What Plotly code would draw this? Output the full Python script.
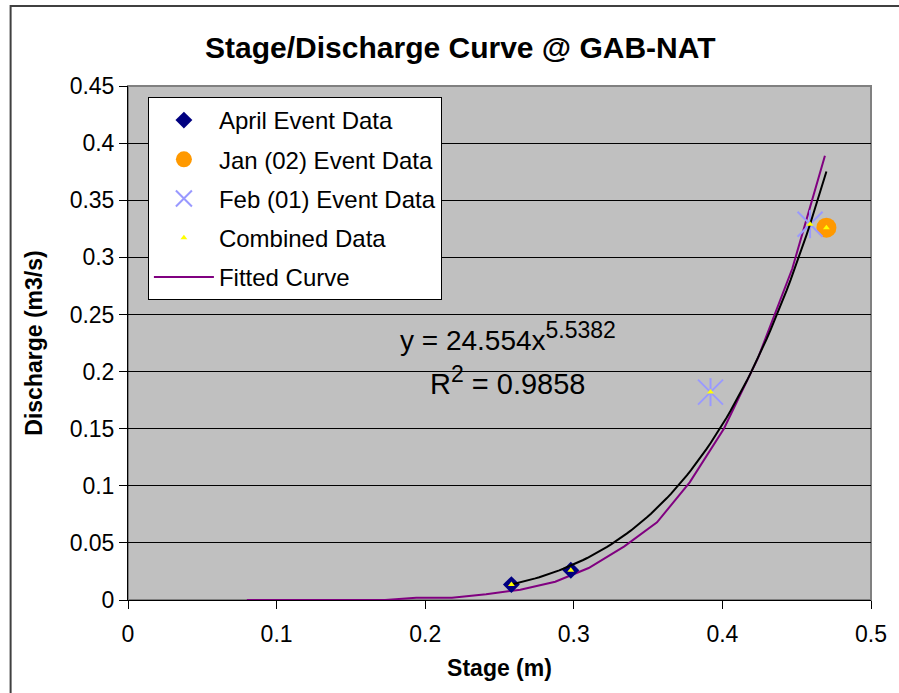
import numpy as np
import plotly.graph_objects as go

# Observed events (stage in m, discharge in m3/s)
april_stage = [0.258, 0.298]
april_q = [0.0135, 0.026]

jan_stage = [0.470]
jan_q = [0.326]

feb_stage = [0.392, 0.459]
feb_q = [0.182, 0.329]

combined_stage = [0.258, 0.298, 0.392, 0.459, 0.470]
combined_q = [0.0135, 0.026, 0.182, 0.329, 0.326]

# Rating curve tabulated by stage
fit_stage = [0.080, 0.104, 0.127, 0.150, 0.173, 0.194, 0.218, 0.241, 0.264,
             0.2875, 0.310, 0.334, 0.356, 0.378, 0.401, 0.424, 0.447, 0.469]
fit_q = [0.0, 0.0, 0.0, 0.0, 0.0, 0.002, 0.002, 0.005, 0.009,
         0.016, 0.028, 0.047, 0.068, 0.103, 0.150, 0.212, 0.290, 0.389]

# Power trendline through the combined data: y = a * x^b
trend_a = 24.554
trend_b = 5.5382
trend_r2 = 0.9858
trend_range = [0.258, 0.470]

x_ticks = [0, 0.1, 0.2, 0.3, 0.4, 0.5]
y_ticks = [0, 0.05, 0.1, 0.15, 0.2, 0.25, 0.3, 0.35, 0.4, 0.45]

FONT = "Liberation Sans, Arial, sans-serif"
FEB_COLOR = "#9999FF"

trend_x = np.linspace(trend_range[0], trend_range[1], 80)
trend_y = trend_a * trend_x ** trend_b

fig = go.Figure()

fig.add_trace(go.Scatter(
    x=fit_stage, y=fit_q, mode="lines", name="Fitted Curve",
    line=dict(color="#800080", width=2), legendrank=5, legendgroup="g5"))

fig.add_trace(go.Scatter(
    x=april_stage, y=april_q, mode="markers", name="April Event Data",
    marker=dict(symbol="diamond", size=13, color="#000080"),
    legendrank=1, legendgroup="g1"))

fig.add_trace(go.Scatter(
    x=jan_stage, y=jan_q, mode="markers", name="Jan (02) Event Data",
    marker=dict(symbol="circle", size=20, color="#FF9900"),
    legendrank=2, legendgroup="g2"))

# Feb marker: an X with a vertical stroke through it
fig.add_trace(go.Scatter(
    x=feb_stage, y=feb_q, mode="markers", name="Feb (01) Event Data",
    marker=dict(symbol="x-thin-open", size=25, color=FEB_COLOR,
                line=dict(color=FEB_COLOR, width=2)),
    legendrank=3, legendgroup="g3"))
fig.add_trace(go.Scatter(
    x=feb_stage, y=feb_q, mode="markers", showlegend=False, hoverinfo="skip",
    marker=dict(symbol="line-ns-open", size=20, color=FEB_COLOR,
                line=dict(color=FEB_COLOR, width=2)),
    legendgroup="g3"))

fig.add_trace(go.Scatter(
    x=trend_x, y=trend_y, mode="lines", showlegend=False,
    line=dict(color="black", width=2), hoverinfo="skip"))

fig.add_trace(go.Scatter(
    x=combined_stage, y=combined_q, mode="markers", name="Combined Data",
    marker=dict(symbol="triangle-up", size=6, color="#FFFF00"),
    legendrank=4, legendgroup="g4"))

# Equation of the trendline
fig.add_annotation(
    x=0.2557, y=0.2303, xref="x", yref="y", showarrow=False,
    text=f"y = {trend_a}x<sup><span style='font-size:23px'>{trend_b}</span></sup>",
    font=dict(family=FONT, size=28, color="black"))
fig.add_annotation(
    x=0.2557, y=0.1918, xref="x", yref="y", showarrow=False,
    text=f"R<sup><span style='font-size:23px'>2</span></sup> = {trend_r2}",
    font=dict(family=FONT, size=29, color="black"))

# Plot-area frame and outer chart border
fig.add_shape(type="rect", xref="paper", yref="paper", x0=0, x1=1, y0=0, y1=1,
              line=dict(color="#808080", width=2), layer="below")
fig.add_shape(type="path", xref="paper", yref="paper",
              path="M -0.158,-0.3 L -0.158,1.1556 L 1.2,1.1556",
              line=dict(color="#404040", width=2))

axis_common = dict(
    showline=True, linecolor="black", linewidth=1,
    ticks="outside", tickcolor="black", ticklen=8, tickwidth=1,
    tickfont=dict(family=FONT, size=23, color="black"),
    zeroline=False,
)

fig.update_xaxes(
    range=[0, 0.5], tickvals=x_ticks, ticktext=[f"{v:g}" for v in x_ticks],
    showgrid=False, ticklabelstandoff=5,
    title=dict(text="<b>Stage (m)</b>", font=dict(family=FONT, size=23, color="black"),
               standoff=14),
    **axis_common)

fig.update_yaxes(
    range=[0, 0.45], tickvals=y_ticks, ticktext=[f"{v:g}" for v in y_ticks],
    showgrid=True, gridcolor="black", gridwidth=1,
    title=dict(text="<b>Discharge (m3/s)</b>", font=dict(family=FONT, size=23, color="black"),
               standoff=20),
    **axis_common)

fig.update_layout(
    width=899, height=693,
    margin=dict(l=128, r=24, t=86, b=93),
    paper_bgcolor="white", plot_bgcolor="#C0C0C0",
    title=dict(text="<b>Stage/Discharge Curve @ GAB-NAT</b>",
               x=0.512, xanchor="center", y=1 - 47 / 693, yanchor="middle",
               font=dict(family=FONT, size=30, color="black")),
    legend=dict(x=0.0268, y=0.9786, xanchor="left", yanchor="top",
                bgcolor="white", bordercolor="black", borderwidth=1,
                font=dict(family=FONT, size=24, color="black"),
                tracegroupgap=5, itemwidth=60),
    showlegend=True,
)

fig.write_html("out.html")
